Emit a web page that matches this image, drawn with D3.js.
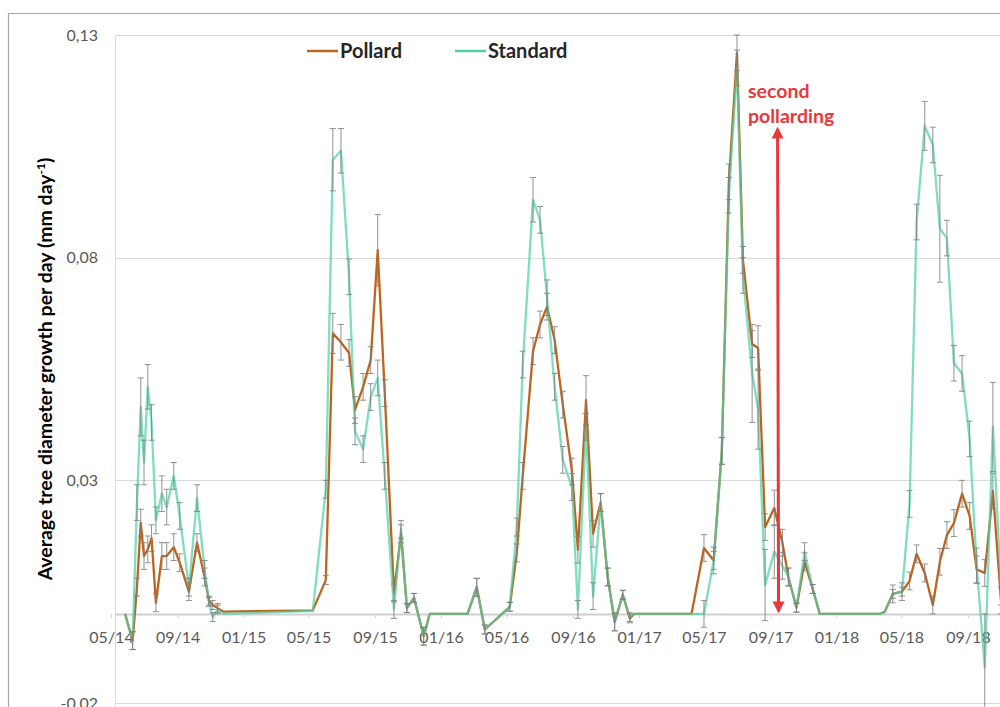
<!DOCTYPE html>
<html><head><meta charset="utf-8">
<script src="https://cdn.jsdelivr.net/npm/d3@7"></script>
<style>html,body{margin:0;padding:0;background:#fff;overflow:hidden}</style>
</head><body>
<svg id="chart" width="1000" height="707"></svg>
<script>
const dates = [
"2014-05-27","2014-06-10","2014-06-18","2014-06-25","2014-07-01","2014-07-08","2014-07-15","2014-07-23","2014-08-03","2014-08-12",
"2014-08-25","2014-09-05","2014-09-22","2014-10-07","2014-10-21","2014-10-29","2014-11-05","2014-11-14","2014-11-25","2015-05-09",
"2015-06-02","2015-06-15","2015-06-30","2015-07-15","2015-07-26","2015-08-10","2015-08-24","2015-09-06","2015-09-19","2015-10-06",
"2015-10-19","2015-10-30","2015-11-12","2015-11-30","2015-12-11","2016-02-19","2016-03-07","2016-03-22","2016-05-07",
"2016-05-20","2016-05-31","2016-06-19","2016-07-02","2016-07-15","2016-07-29","2016-08-13","2016-08-30","2016-09-10","2016-09-25",
"2016-10-08","2016-10-22","2016-11-04","2016-11-17","2016-12-02","2016-12-15","2016-12-23",
"2017-04-08","2017-05-01","2017-05-19","2017-06-03","2017-06-16","2017-07-01","2017-07-12","2017-07-29","2017-08-09","2017-08-22",
"2017-09-08","2017-09-23","2017-10-04","2017-10-19","2017-11-03","2017-11-18","2017-12-01",
"2018-03-22","2018-03-31","2018-04-15","2018-05-02","2018-05-16","2018-05-29","2018-06-13","2018-06-28","2018-07-11","2018-07-24",
"2018-08-06","2018-08-21","2018-09-04","2018-09-17","2018-10-02","2018-10-17","2018-11-01"];

const standard = [
0,-0.006,0.025,0.0465,0.034,0.051,0.043,0.021,0.027,0.024,0.031,0.022,0.006,0.026,0.010,0.0027,-0.0007,0.001,0,0.0007,
0.028,0.102,0.104,0.0757,0.041,0.037,0.0487,0.053,0.031,0.001,0.019,0.0013,0.0036,-0.005,0,0,0.006,-0.0035,0.0016,
0.0195,0.056,0.093,0.0885,0.071,0.051,0.0346,0.0285,0.001,0.042,0.004,0.025,0.0083,-0.0018,0.0043,-0.0007,0,
0,0,0.012,0.0366,0.094,0.1226,0.076,0.054,0.046,0.0065,0.014,0.0108,0.0083,0.0014,0.014,0.0056,0,
0,0.0005,0.0045,0.005,0.0247,0.088,0.1096,0.1053,0.0865,0.0844,0.0563,0.054,0.0393,0.0108,-0.012,0.042,0.006];

const pollard = [
0,-0.006,0.006,0.0205,0.013,0.0145,0.017,0.0025,0.013,0.013,0.015,0.0115,0.005,0.016,0.0083,0.003,0.002,0.0013,0.0005,0.0008,
0.0076,0.063,0.061,0.0586,0.0458,0.051,0.057,0.0817,0.0496,0.0047,0.018,0.0013,0.0036,-0.005,0,0,0.006,-0.0035,0.0016,
0.0137,0.031,0.059,0.065,0.069,0.0615,0.047,0.032,0.0144,0.048,0.018,0.025,0.0083,-0.0018,0.0043,-0.001,0,
0,0.0148,0.012,0.0366,0.097,0.126,0.0795,0.0606,0.0597,0.0195,0.0238,0.016,0.0083,0.0014,0.0117,0.0056,0,
0,0.0005,0.0045,0.005,0.0074,0.0135,0.0092,0.002,0.0117,0.0177,0.0204,0.027,0.022,0.010,0.0092,0.0276,0.003];

const standardErr = [
0,0.002,0.004,0.0065,0.005,0.005,0.004,0.003,0.004,0.004,0.003,0.003,0.002,0.003,0.002,0.001,0.001,0.001,0,0,
0.002,0.007,0.005,0.004,0.003,0.003,0.003,0.004,0.003,0.002,0.002,0.001,0.001,0.002,0,0,0.002,0.001,0.001,
0.002,0.003,0.005,0.003,0.004,0.003,0.003,0.003,0.002,0.003,0.003,0.002,0.002,0.002,0.001,0.001,0,
0,0.003,0.003,0.003,0.004,0.004,0.004,0.011,0.009,0.008,0.006,0.003,0.002,0.001,0.002,0.001,0,
0,0,0.002,0.002,0.003,0.004,0.0055,0.004,0.012,0.004,0.004,0.004,0.004,0.004,0.012,0.01,0.004];

const pollardErr = [
0,0.002,0.002,0.003,0.003,0.003,0.003,0.002,0.003,0.003,0.003,0.002,0.002,0.002,0.002,0.001,0.001,0.001,0,0,
0.001,0.0045,0.004,0.003,0.003,0.003,0.003,0.008,0.003,0.002,0.002,0.001,0.001,0.002,0,0,0.002,0.001,0.001,
0.002,0.003,0.003,0.003,0.003,0.003,0.003,0.003,0.003,0.0055,0.003,0.002,0.002,0.002,0.001,0.001,0,
0,0.003,0.002,0.003,0.004,0.004,0.003,0.003,0.005,0.003,0.004,0.003,0.002,0.001,0.002,0.001,0,
0,0,0.001,0.001,0.002,0.002,0.002,0.002,0.003,0.003,0.003,0.003,0.003,0.003,0.003,0.004,0.003];

const seriesNames = ["Pollard","Standard"];
const seriesColors = ["#bd651f","#4fd0a6"];
const yTicks = [0.13,0.08,0.03,-0.02];
const xTickDates = ["2014-05-01","2014-09-01","2015-01-01","2015-05-01","2015-09-01","2016-01-01","2016-05-01","2016-09-01","2017-01-01","2017-05-01","2017-09-01","2018-01-01","2018-05-01","2018-09-01"];
const yTitle = "Average tree diameter growth per day (mm day";
const annotation = ["second","pollarding"];
const annotationDate = "2017-09-14";

const FONT = "Lato, 'Open Sans', sans-serif";
const parse = d3.utcParse("%Y-%m-%d");
const svg = d3.select("#chart");
const x = d3.scaleUtc().domain([parse("2014-05-01"), parse("2018-09-01")]).range([111, 968]);
const y = d3.scaleLinear().domain([-0.02, 0.13]).range([703, 35]);
const plotLeft = 115, plotRight = 1000;

// outer frame
svg.append("path").attr("d", `M8.5,707 V13.5 H1000`).attr("fill","none").attr("stroke","#a6a6a6").attr("stroke-width",1.2);

// gridlines
svg.append("g").selectAll("line").data(yTicks).join("line")
  .attr("x1", plotLeft).attr("x2", plotRight)
  .attr("y1", d => Math.round(y(d)) + 0.5).attr("y2", d => Math.round(y(d)) + 0.5)
  .attr("stroke", "#d9d9d9").attr("stroke-width", 1);

// y axis line
svg.append("line").attr("x1", plotLeft + 0.5).attr("x2", plotLeft + 0.5).attr("y1", y(0.13)).attr("y2", 707)
  .attr("stroke", "#d9d9d9");

// y tick labels
const fmt = d => d3.format(".2f")(d).replace(".", ",").replace("−","-");
svg.append("g").selectAll("text").data(yTicks).join("text")
  .attr("x", 98).attr("y", d => y(d)).attr("dy", "0.35em")
  .attr("text-anchor", "end").attr("font-family", FONT).attr("font-size", 16)
  .attr("fill", "#595959").text(fmt);

// x axis at zero
const xAxis = d3.axisBottom(x).tickValues(xTickDates.map(parse)).tickFormat(d3.utcFormat("%m/%y")).tickSize(4).tickSizeOuter(0);
const gx = svg.append("g").attr("transform", `translate(0,${Math.round(y(0))})`).call(xAxis);
gx.select(".domain").remove();
gx.insert("line", ":first-child").attr("x1", plotLeft).attr("x2", plotRight).attr("y1", 0.5).attr("y2", 0.5).attr("stroke", "#d0d0d0").attr("stroke-width", 2);
gx.selectAll(".tick line").attr("stroke", "#d0d0d0");
gx.selectAll(".tick text").attr("y", 23).attr("dy", "0.35em")
  .attr("font-family", FONT).attr("font-size", 16).attr("fill", "#595959");

// y title
const yt = svg.append("text").attr("transform", "translate(52,369) rotate(-90)").attr("text-anchor", "middle")
  .attr("font-family", FONT).attr("font-size", 19.5).attr("font-weight", "bold").attr("fill", "#000");
yt.append("tspan").text(yTitle);
yt.append("tspan").attr("dy", -7).attr("font-size", 12).text("-1");
yt.append("tspan").attr("dy", 7).text(")");

// series
const seriesData = [pollard, standard].map((vals, si) => vals.map((v, i) => ({
  date: parse(dates[i]), v, e: (si === 0 ? pollardErr : standardErr)[i]
})));

svg.append("clipPath").attr("id", "clip").append("rect").attr("x", plotLeft).attr("y", 0).attr("width", plotRight - plotLeft).attr("height", 707);
const plot = svg.append("g").attr("clip-path", "url(#clip)");
const line = d3.line().x(d => x(d.date)).y(d => y(d.v));

seriesData.forEach((data, si) => {
  const g = plot.append("g").attr("opacity", si === 1 ? 0.72 : 1);
  g.append("path").datum(data).attr("d", line).attr("fill", "none")
    .attr("stroke", seriesColors[si]).attr("stroke-width", 2.3).attr("stroke-linejoin", "round");
});
seriesData.forEach((data, si) => {
  const eb = plot.append("g").attr("stroke", "#7f7f7f").attr("stroke-width", 1).attr("opacity", 0.85);
  const withErr = data.filter(d => d.e > 0);
  eb.selectAll(".v").data(withErr).join("line")
    .attr("x1", d => x(d.date)).attr("x2", d => x(d.date))
    .attr("y1", d => y(d.v - d.e)).attr("y2", d => y(d.v + d.e));
  eb.selectAll(".t").data(withErr).join("line")
    .attr("x1", d => x(d.date) - 3).attr("x2", d => x(d.date) + 3)
    .attr("y1", d => y(d.v + d.e)).attr("y2", d => y(d.v + d.e));
  eb.selectAll(".b").data(withErr).join("line")
    .attr("x1", d => x(d.date) - 3).attr("x2", d => x(d.date) + 3)
    .attr("y1", d => y(d.v - d.e)).attr("y2", d => y(d.v - d.e));
});

// legend
const legend = svg.append("g");
[[307, 0], [455, 1]].forEach(([lx, si]) => {
  legend.append("line").attr("x1", lx).attr("x2", lx + 31).attr("y1", 51).attr("y2", 51)
    .attr("stroke", seriesColors[si]).attr("stroke-width", 2.5);
  legend.append("text").attr("x", lx + 33).attr("y", 51).attr("dy", "0.35em")
    .attr("font-family", FONT).attr("font-size", 20).attr("font-weight", "bold")
    .attr("fill", "#262626").text(seriesNames[si]);
});

// annotation
const red = "#e8383a";
const ax = x(parse(annotationDate));
annotation.forEach((t, i) => {
  svg.append("text").attr("x", 748).attr("y", 91 + i * 25).attr("dy", "0.35em")
    .attr("font-family", FONT).attr("font-size", 19.5).attr("font-weight", "bold")
    .attr("fill", red).text(t);
});
const defs = svg.append("defs");
defs.append("marker").attr("id", "ah").attr("viewBox", "0 0 10 10").attr("refX", 8).attr("refY", 5)
  .attr("markerWidth", 4).attr("markerHeight", 4).attr("orient", "auto-start-reverse")
  .append("path").attr("d", "M0,0 L10,5 L0,10 z").attr("fill", red);
svg.append("line").attr("x1", ax).attr("x2", ax + 1).attr("y1", 129).attr("y2", 611)
  .attr("stroke", red).attr("stroke-width", 3)
  .attr("marker-start", "url(#ah)").attr("marker-end", "url(#ah)");
</script>
</body></html>
